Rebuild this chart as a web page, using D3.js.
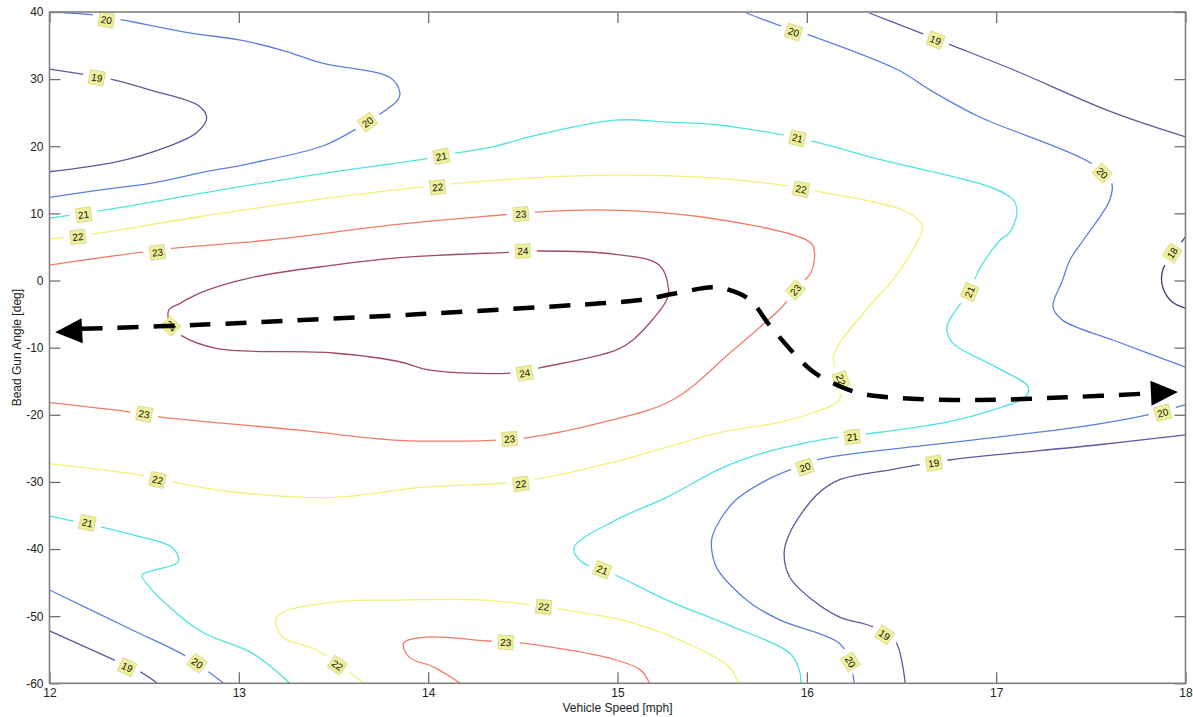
<!DOCTYPE html>
<html>
<head>
<meta charset="utf-8">
<script src="https://cdn.jsdelivr.net/npm/d3@7"></script>
<style>
  body { margin: 0; background: #fff; }
  text { font-family: "Liberation Sans", Arial, sans-serif; }
</style>
</head>
<body>
<div id="chart"></div>
<script>
// tick values
var xTicks = [12, 13, 14, 15, 16, 17, 18];
var yTicks = [40, 30, 20, 10, 0, -10, -20, -30, -40, -50, -60];

// contour levels and their colours (jet-like)
var levels = [18, 19, 20, 21, 22, 23, 24];
var levelColors = ["#3c3c80", "#5a5aa0", "#5f7fe0", "#4fe3df", "#f1f173", "#f27c6c", "#a04c5e"];

// contour lines, points are [vehicle speed, bead gun angle]
var c18 = [[18.00,6.5],[17.96,5.0],[17.88,1.6],[17.88,-1.0],[17.93,-3.2],[18.00,-4.1]];
var c18Labels = [[17.93,4.1]];

var c19TopLeft = [[12.00,31.5],[12.18,30.7],[12.34,29.9],[12.53,28.4],[12.79,26.0],[12.83,24.2],
  [12.78,22.1],[12.62,19.9],[12.36,17.7],[12.00,16.2]];
var c19TopLeftLabels = [[12.25,30.2]];

var c19TopRight = [[16.33,39.85],[16.60,36.9],[16.76,35.1],[17.09,31.4],[17.62,25.0],[18.00,21.4]];
var c19TopRightLabels = [[16.68,35.8]];

var c19BottomRight = [[18.00,-23.0],[17.53,-24.5],[16.76,-26.7],[16.58,-27.5],[16.44,-28.2],[16.17,-29.7],
  [16.05,-32.0],[15.91,-37.6],[15.88,-40.6],[15.91,-44.2],[16.03,-47.6],[16.17,-50.1],[16.35,-51.6],
  [16.47,-53.9],[16.50,-56.5],[16.52,-60]];
var c19BottomRightLabels = [[16.67,-27.2],[16.41,-52.8]];

var c19BottomLeft = [[12.00,-52.2],[12.34,-56.5],[12.48,-58.3],[12.57,-60]];
var c19BottomLeftLabels = [[12.41,-57.6]];

var c20TopLeft = [[12.00,40],[12.22,39.6],[12.39,38.8],[12.50,38.2],[12.74,36.9],[13.01,35.8],[13.23,34.3],
  [13.44,32.4],[13.80,30.2],[13.85,28.1],[13.84,26.9],[13.68,23.6],[13.59,22.1],[13.44,20.0],
  [13.07,17.5],[12.79,16.0],[12.54,14.5],[12.27,13.5],[12.00,12.4]];
var c20TopLeftLabels = [[12.30,38.8],[13.68,23.6]];

var c20TopRight = [[15.68,39.85],[15.85,38.06],[16.01,36.6],[16.48,31.4],[16.65,28.4],[16.91,24.4],
  [17.50,17.5],[17.61,14.5],[17.60,12.0],[17.46,6.0],[17.39,3.1],[17.35,0.0],[17.30,-3.9],
  [17.35,-5.9],[17.62,-8.9],[18.00,-12.9]];
var c20TopRightLabels = [[15.93,37.0],[17.56,16.0]];

var c20BottomRight = [[18.00,-18.5],[17.80,-20.0],[17.44,-21.8],[16.74,-24.2],[16.07,-26.6],[15.91,-28.2],
  [15.79,-29.7],[15.61,-33.1],[15.50,-38.2],[15.50,-40.6],[15.53,-43.1],[15.70,-48.0],[15.86,-50.6],
  [16.17,-54.0],[16.23,-56.8],[16.25,-60]];
var c20BottomRightLabels = [[17.88,-19.7],[15.99,-27.8],[16.23,-56.8]];

var c20BottomLeft = [[12.00,-46.1],[12.44,-52.1],[12.71,-55.8],[12.85,-58.5],[12.92,-60]];
var c20BottomLeftLabels = [[12.78,-57.0]];

var c21Main = [[12.00,9.3],[12.27,10.4],[12.97,13.8],[13.50,16.2],[13.96,18.0],[14.15,19.0],[14.34,19.9],
  [14.55,21.5],[14.99,23.9],[15.26,23.6],[15.53,23.2],[15.87,21.7],[16.05,20.6],[16.39,18.0],
  [16.97,13.9],[17.09,12.0],[17.11,10.1],[17.07,7.1],[17.02,6.0],[16.91,1.6],[16.86,-1.7],
  [16.80,-3.9],[16.74,-6.9],[16.77,-9.3],[17.00,-12.9],[17.17,-15.9],[17.15,-17.4],[16.98,-19.3],
  [16.74,-21.1],[16.39,-22.6],[16.12,-23.5],[15.86,-25.0],[15.70,-26.3],[15.53,-28.2],[15.26,-32.3],
  [14.99,-35.7],[14.77,-39.8],[14.81,-41.9],[14.99,-43.9],[15.26,-47.6],[15.61,-51.6],[15.91,-55.5],
  [15.96,-58.0],[15.97,-60]];
var c21MainLabels = [[12.18,9.8],[14.07,18.5],[15.95,21.2],[16.86,-1.7],[16.24,-23.3],[14.92,-43.1]];

var c21BottomLeft = [[12.00,-35.1],[12.27,-36.7],[12.44,-37.9],[12.65,-39.8],[12.68,-41.9],[12.49,-43.9],
  [12.52,-45.4],[12.79,-52.1],[13.07,-55.5],[13.27,-60]];
var c21BottomLeftLabels = [[12.20,-36.1]];

var c22Main = [[12.00,6.2],[12.22,6.9],[12.79,9.5],[13.50,12.4],[13.96,13.9],[14.13,14.4],[14.55,15.3],
  [14.99,15.7],[15.44,15.4],[15.87,14.2],[16.07,13.2],[16.53,10.2],[16.61,8.0],[16.58,5.6],
  [16.53,3.1],[16.44,-0.4],[16.30,-4.8],[16.14,-11.4],[16.18,-14.8],[16.17,-17.8],[16.03,-19.7],
  [15.86,-21.1],[15.53,-22.7],[15.08,-26.3],[14.59,-29.5],[14.38,-30.2],[13.96,-30.8],[13.50,-32.3],
  [12.97,-31.5],[12.65,-30.0],[12.49,-29.0],[12.00,-27.3]];
var c22MainLabels = [[12.15,6.5],[14.05,13.9],[15.97,13.6],[16.18,-14.8],[14.49,-30.3],[12.57,-29.7]];

var c22Bottom = [[13.66,-60],[13.41,-55.0],[13.23,-53.1],[13.20,-50.1],[13.50,-47.9],[13.85,-47.6],
  [14.29,-47.6],[14.73,-49.1],[15.08,-51.0],[15.44,-55.0],[15.59,-57.6],[15.64,-60]];
var c22BottomLabels = [[13.52,-57.3],[14.61,-48.6]];

var c23Upper = [[12.00,2.3],[12.65,4.8],[13.15,6.0],[13.85,8.4],[14.40,9.8],[14.57,10.2],[14.96,10.5],
  [15.44,9.5],[15.96,6.5],[16.03,5.3],[16.04,3.1],[16.02,1.1],[15.94,-1.4],[15.87,-3.9],
  [15.61,-10.4],[15.29,-17.8],[14.91,-21.2],[14.50,-23.5],[14.34,-23.8],[13.85,-23.8],
  [13.32,-22.3],[12.58,-20.3],[12.43,-19.6],[12.00,-18.2]];
var c23UpperLabels = [[12.57,4.2],[14.49,9.9],[15.94,-1.4],[14.43,-23.6],[12.50,-19.9]];

var c23Bottom = [[14.17,-60],[14.03,-57.6],[13.90,-56.1],[13.87,-54.0],[14.00,-53.1],[14.31,-53.7],
  [14.50,-54.0],[14.99,-56.5],[15.12,-58.0],[15.17,-60]];
var c23BottomLabels = [[14.41,-53.9]];

var c24 = [[12.63,-4.4],[12.69,-3.4],[12.79,-1.9],[13.06,0.4],[13.50,2.3],[13.85,3.4],[14.42,4.2],
  [14.59,4.4],[14.99,3.9],[15.22,2.3],[15.27,-1.4],[15.26,-2.9],[15.08,-8.9],[14.99,-10.4],
  [14.59,-13.0],[14.43,-13.8],[14.00,-13.3],[13.85,-12.1],[13.50,-10.8],[12.88,-10.1],
  [12.69,-8.1],[12.64,-6.8]];
var c24Labels = [[12.64,-6.8],[14.50,4.4],[14.51,-13.8]];

// annotation: dashed double arrow
var arrowPath = [[12.03,-7.7],[12.17,-7.2],[12.79,-6.6],[13.96,-5.0],[14.91,-3.4],[15.12,-2.9],
  [15.31,-1.9],[15.50,-1.0],[15.59,-1.4],[15.70,-2.9],[15.81,-6.9],[16.02,-13.3],[16.14,-15.3],
  [16.28,-16.8],[16.48,-17.5],[16.91,-17.8],[17.37,-17.4],[17.82,-16.8],[17.96,-16.6]];

var contours = [
  {level: 18, pts: c18, labels: c18Labels},
  {level: 19, pts: c19TopLeft, labels: c19TopLeftLabels},
  {level: 19, pts: c19TopRight, labels: c19TopRightLabels},
  {level: 19, pts: c19BottomRight, labels: c19BottomRightLabels},
  {level: 19, pts: c19BottomLeft, labels: c19BottomLeftLabels},
  {level: 20, pts: c20TopLeft, labels: c20TopLeftLabels},
  {level: 20, pts: c20TopRight, labels: c20TopRightLabels},
  {level: 20, pts: c20BottomRight, labels: c20BottomRightLabels},
  {level: 20, pts: c20BottomLeft, labels: c20BottomLeftLabels},
  {level: 21, pts: c21Main, labels: c21MainLabels},
  {level: 21, pts: c21BottomLeft, labels: c21BottomLeftLabels},
  {level: 22, pts: c22Main, labels: c22MainLabels},
  {level: 22, pts: c22Bottom, labels: c22BottomLabels},
  {level: 23, pts: c23Upper, labels: c23UpperLabels},
  {level: 23, pts: c23Bottom, labels: c23BottomLabels},
  {level: 24, pts: c24, labels: c24Labels, closed: true}
];

// set the dimensions and margins of the graph
var totalW = 1193, totalH = 717;
var margin = {top: 12, right: 7.5, bottom: 33.7, left: 49.5},
    width = totalW - margin.left - margin.right,
    height = totalH - margin.top - margin.bottom;

var x = d3.scaleLinear().domain([12, 18]).range([0, width]);
var y = d3.scaleLinear().domain([-60, 40]).range([height, 0]);
var color = d3.scaleOrdinal().domain(levels).range(levelColors);

var svg = d3.select("#chart").append("svg")
    .attr("width", totalW)
    .attr("height", totalH)
  .append("g")
    .attr("transform", "translate(" + margin.left + "," + margin.top + ")");

svg.append("defs").append("clipPath").attr("id", "plotclip")
  .append("rect").attr("width", width).attr("height", height);

var plot = svg.append("g").attr("clip-path", "url(#plotclip)");

var line = d3.line()
    .curve(d3.curveCatmullRom.alpha(0.5))
    .x(function(d) { return x(d[0]); })
    .y(function(d) { return y(d[1]); });
var closedLine = d3.line()
    .curve(d3.curveCatmullRomClosed.alpha(0.5))
    .x(function(d) { return x(d[0]); })
    .y(function(d) { return y(d[1]); });

// contour lines
contours.forEach(function(c) {
  plot.append("path")
      .datum(c.pts)
      .attr("d", c.closed ? closedLine : line)
      .style("fill", "none")
      .style("stroke", color(c.level))
      .style("stroke-width", 1.3);
});

// angle of the contour segment closest to a label
function labelAngle(pts, p) {
  var px = x(p[0]), py = y(p[1]), best = Infinity, ang = 0;
  for (var i = 0; i < pts.length - 1; i++) {
    var ax = x(pts[i][0]), ay = y(pts[i][1]), bx = x(pts[i+1][0]), by = y(pts[i+1][1]);
    var dx = bx - ax, dy = by - ay, L = dx*dx + dy*dy;
    var t = L ? Math.max(0, Math.min(1, ((px-ax)*dx + (py-ay)*dy) / L)) : 0;
    var qx = ax + t*dx - px, qy = ay + t*dy - py, dist = qx*qx + qy*qy;
    if (dist < best) { best = dist; ang = Math.atan2(dy, dx) * 180 / Math.PI; }
  }
  if (ang > 90) ang -= 180;
  if (ang < -90) ang += 180;
  return ang;
}

// contour labels
contours.forEach(function(c) {
  c.labels.forEach(function(p) {
    var g = plot.append("g")
        .attr("transform", "translate(" + x(p[0]) + "," + y(p[1]) + ") rotate(" + labelAngle(c.pts, p) + ")");
    g.append("rect")
        .attr("x", -14).attr("y", -4).attr("width", 28).attr("height", 8)
        .style("fill", "#fff");
    g.append("rect")
        .attr("x", -7.5).attr("y", -7).attr("width", 15).attr("height", 14)
        .style("fill", "#f0f09a")
        .style("stroke", "#d6d68a")
        .style("stroke-width", 0.8);
    g.append("text")
        .attr("text-anchor", "middle")
        .attr("dy", "0.36em")
        .style("font-size", "10px")
        .style("fill", "#111")
        .text(c.level);
  });
});

// dashed arrow annotation
var arrowBody = arrowPath.slice(1, arrowPath.length - 1);
plot.append("path")
    .datum(arrowBody)
    .attr("d", line)
    .style("fill", "none")
    .style("stroke", "#000")
    .style("stroke-width", 4.5)
    .style("stroke-dasharray", "21,15");

function arrowHead(tip, from) {
  var tx = x(tip[0]), ty = y(tip[1]), fx = x(from[0]), fy = y(from[1]);
  var a = Math.atan2(ty - fy, tx - fx), len = 27, half = 12.5;
  var bx = tx - len * Math.cos(a), by = ty - len * Math.sin(a);
  var nx = -Math.sin(a), ny = Math.cos(a);
  plot.append("path")
      .attr("d", "M" + tx + "," + ty + "L" + (bx + nx*half) + "," + (by + ny*half) +
                 "L" + (bx - nx*half) + "," + (by - ny*half) + "Z")
      .style("fill", "#000");
}
arrowHead(arrowPath[0], arrowPath[2]);
arrowHead(arrowPath[arrowPath.length - 1], arrowPath[arrowPath.length - 3]);

// axes with inward ticks
var tickLen = 11;
var xAxis = svg.append("g")
    .attr("transform", "translate(0," + height + ")")
    .call(d3.axisBottom(x).tickValues(xTicks).tickFormat(d3.format("d"))
      .tickSizeInner(-tickLen).tickSizeOuter(0).tickPadding(5));
var yAxis = svg.append("g")
    .call(d3.axisLeft(y).tickValues(yTicks).tickFormat(function(d) { return d < 0 ? "-" + (-d) : d; })
      .tickSizeInner(-tickLen).tickSizeOuter(0).tickPadding(6));
var xTop = svg.append("g")
    .call(d3.axisTop(x).tickValues(xTicks).tickFormat("").tickSizeInner(-tickLen).tickSizeOuter(0));
var yRight = svg.append("g")
    .attr("transform", "translate(" + width + ",0)")
    .call(d3.axisRight(y).tickValues(yTicks).tickFormat("").tickSizeInner(-tickLen).tickSizeOuter(0));

[xAxis, yAxis, xTop, yRight].forEach(function(a) {
  a.select(".domain").remove();
  a.selectAll(".tick line").style("stroke", "#666").style("stroke-width", 1.2);
  a.selectAll(".tick text")
      .style("font-size", "12px")
      .style("fill", "#222")
      .style("font-family", "'Liberation Sans', Arial, sans-serif");
});

// plot box
svg.append("rect")
    .attr("width", width).attr("height", height)
    .style("fill", "none")
    .style("stroke", "#808080")
    .style("stroke-width", 1.6);

// axis titles
svg.append("text")
    .attr("x", width / 2)
    .attr("y", height + 29)
    .attr("text-anchor", "middle")
    .style("font-size", "12px")
    .style("fill", "#222")
    .text("Vehicle Speed [mph]");

svg.append("text")
    .attr("transform", "translate(" + (-29) + "," + (height / 2) + ") rotate(-90)")
    .attr("text-anchor", "middle")
    .style("font-size", "12px")
    .style("fill", "#222")
    .text("Bead Gun Angle [deg]");
</script>
</body>
</html>
